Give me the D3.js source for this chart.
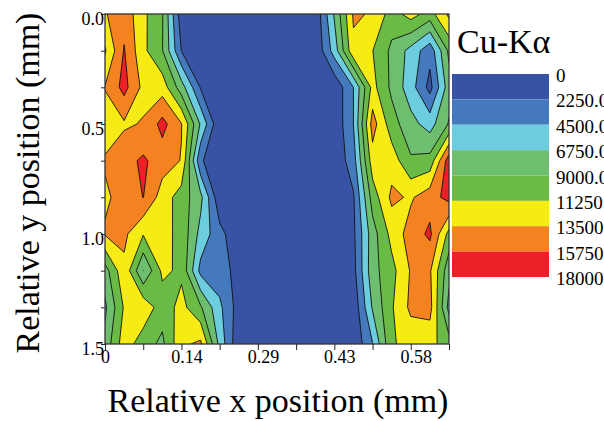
<!DOCTYPE html>
<html>
<head>
<meta charset="utf-8">
<script src="https://cdn.jsdelivr.net/npm/d3@7"></script>
<style>
  body { margin: 0; background: #fff; }
  svg { display: block; }
  text { font-family: "Liberation Serif", "Times New Roman", serif; }
</style>
</head>
<body>
<div id="chart"></div>
<script>
// sample positions (mm)
const xPos = [0, 0.03625, 0.0725, 0.10875, 0.145, 0.18125, 0.2175, 0.25375, 0.29, 0.32625,
              0.3625, 0.39875, 0.435, 0.47125, 0.5075, 0.54375, 0.58, 0.61625, 0.6525];
const yPos = [0, 0.1667, 0.3333, 0.5, 0.6667, 0.8333, 1.0, 1.1667, 1.3333, 1.5];

// Cu-Kα counts, one row per y position (top to bottom), one column per x position
const counts = [
  [13300, 15000, 11800, 9200, 900, 400, 300, 300, 300, 300, 300, 500, 7000, 13800, 13300, 10200, 12200, 10300, 14000],
  [11000, 15900, 11800, 9100, 2200, 400, 300, 300, 300, 300, 300, 300, 5500, 13000, 11300, 8500, 6000, 3000, 9500],
  [13600, 16500, 12900, 12500, 7800, 2100, 400, 300, 300, 300, 300, 300, 500, 4500, 12000, 8500, 5500, 1500, 8000],
  [12500, 13200, 13650, 16500, 13600, 6500, 300, 300, 300, 300, 300, 300, 500, 4500, 14500, 10000, 7500, 5800, 9200],
  [13700, 14900, 16150, 14500, 13400, 2600, 300, 300, 300, 300, 300, 300, 500, 3500, 12500, 12500, 9300, 9800, 17000],
  [13200, 14150, 15800, 12450, 10200, 7400, 500, 300, 300, 300, 300, 300, 300, 2000, 10000, 14000, 13200, 14800, 16500],
  [13700, 14000, 11400, 12000, 10600, 6000, 3000, 500, 300, 300, 300, 300, 300, 1800, 8000, 12000, 14500, 16200, 10500],
  [8000, 13000, 6720, 11750, 10800, 3800, 3200, 1500, 300, 300, 300, 300, 300, 1500, 8200, 10500, 13700, 13800, 7500],
  [6300, 11500, 12900, 10000, 12000, 9300, 5000, 1200, 300, 300, 300, 300, 300, 600, 7000, 11000, 14000, 14300, 6000],
  [7500, 12500, 10000, 8500, 13000, 14000, 6000, 500, 300, 300, 300, 300, 300, 400, 4400, 11000, 12000, 12000, 10000]
];

const levels = [0, 2250, 4500, 6750, 9000, 11250, 13500, 15750, 18000];
const levelLabels = ["0", "2250.0", "4500.0", "6750.0", "9000.0", "11250.0", "13500.0", "15750.0", "18000.0"];
const levelColors = ["#3953a4", "#4479bd", "#6ccddf", "#6dbe6e", "#6abb45", "#f6eb14", "#f58220", "#ed2027"];

const xTicks = [0, 0.0725, 0.145, 0.2175, 0.29, 0.3625, 0.435, 0.5075, 0.58, 0.6525];
const xTickLabels = ["0", "", "0.14", "", "0.29", "", "0.43", "", "0.58", ""];
const yTickLabels = ["0.0", "", "", "0.5", "", "", "1.0", "", "", "1.5"];

const serif = "Liberation Serif, Times New Roman, serif";
const width = 604, height = 421;
const plot = { left: 105, right: 449, top: 14, bottom: 344 };

const svg = d3.select("#chart").append("svg")
    .attr("width", width)
    .attr("height", height);

const x = d3.scaleLinear().domain([xPos[0], xPos[xPos.length - 1]]).range([plot.left, plot.right]);
const y = d3.scaleLinear().domain([yPos[0], yPos[yPos.length - 1]]).range([plot.top, plot.bottom]);

// contour grid coordinates -> mm (grid value i sits at i + 0.5)
const nx = xPos.length, ny = yPos.length;
const gx = d3.scaleLinear().domain([0.5, nx - 0.5]).range([xPos[0], xPos[nx - 1]]);
const gy = d3.scaleLinear().domain([0.5, ny - 0.5]).range([yPos[0], yPos[ny - 1]]);

const contours = d3.contours()
    .size([nx, ny])
    .thresholds(levels.slice(0, -1))(counts.flat());

const path = d3.geoPath(d3.geoTransform({
    point(px, py) { this.stream.point(x(gx(px)), y(gy(py))); }
}));

svg.append("clipPath").attr("id", "plot-clip")
  .append("rect")
    .attr("x", plot.left).attr("y", plot.top)
    .attr("width", plot.right - plot.left)
    .attr("height", plot.bottom - plot.top);

svg.append("g")
    .attr("clip-path", "url(#plot-clip)")
  .selectAll("path")
  .data(contours)
  .join("path")
    .attr("d", path)
    .attr("fill", (d, i) => levelColors[i])
    .attr("stroke", "#111")
    .attr("stroke-width", 0.9)
    .attr("stroke-linejoin", "round");

// frame
svg.append("rect")
    .attr("x", plot.left).attr("y", plot.top)
    .attr("width", plot.right - plot.left)
    .attr("height", plot.bottom - plot.top)
    .attr("fill", "none")
    .attr("stroke", "#333")
    .attr("stroke-width", 1.3);

// x axis
const xAxis = svg.append("g")
    .attr("transform", `translate(0,${plot.bottom})`)
    .call(d3.axisBottom(x).tickValues(xTicks).tickFormat((d, i) => xTickLabels[i]).tickSize(6).tickSizeOuter(0));
xAxis.attr("font-family", serif);
xAxis.select(".domain").remove();
xAxis.selectAll("line").attr("stroke", "#222");
xAxis.selectAll("text")
    .attr("y", 6)
    .attr("dx", (d, i) => i === 0 ? 0 : 5)
    .attr("font-size", 18)
    .attr("fill", "#000");

// y axis
const yAxis = svg.append("g")
    .attr("transform", `translate(${plot.left},0)`)
    .call(d3.axisLeft(y).tickValues(yPos).tickFormat((d, i) => yTickLabels[i]).tickSize(4).tickSizeOuter(0));
yAxis.attr("font-family", serif);
yAxis.select(".domain").remove();
yAxis.selectAll("line").attr("stroke", "#222");
yAxis.selectAll("text")
    .attr("x", -1)
    .attr("dy", "0.6em")
    .attr("font-size", 18)
    .attr("fill", "#000");

// axis titles
svg.append("text")
    .attr("x", (plot.left + plot.right) / 2 + 1)
    .attr("y", 412)
    .attr("text-anchor", "middle")
    .attr("font-family", serif)
    .attr("font-size", 34)
    .text("Relative x position (mm)");

svg.append("text")
    .attr("transform", `translate(39,${(plot.top + plot.bottom) / 2 + 4}) rotate(-90)`)
    .attr("text-anchor", "middle")
    .attr("font-family", serif)
    .attr("font-size", 34)
    .text("Relative y position (mm)");

// legend
svg.append("text")
    .attr("x", 457)
    .attr("y", 53)
    .attr("font-family", serif)
    .attr("font-size", 34)
    .text("Cu-Kα");

const legendY = d3.scaleLinear().domain([levels[0], levels[levels.length - 1]]).range([74, 277]);

svg.append("g")
  .selectAll("rect")
  .data(levelColors)
  .join("rect")
    .attr("x", 452)
    .attr("y", (d, i) => legendY(levels[i]))
    .attr("width", 97)
    .attr("height", (d, i) => legendY(levels[i + 1]) - legendY(levels[i]))
    .attr("fill", d => d);

svg.append("g")
  .selectAll("text")
  .data(levels)
  .join("text")
    .attr("x", 556)
    .attr("y", d => legendY(d) + 8)
    .attr("font-family", serif)
    .attr("font-size", 19)
    .text((d, i) => levelLabels[i]);
</script>
</body>
</html>
